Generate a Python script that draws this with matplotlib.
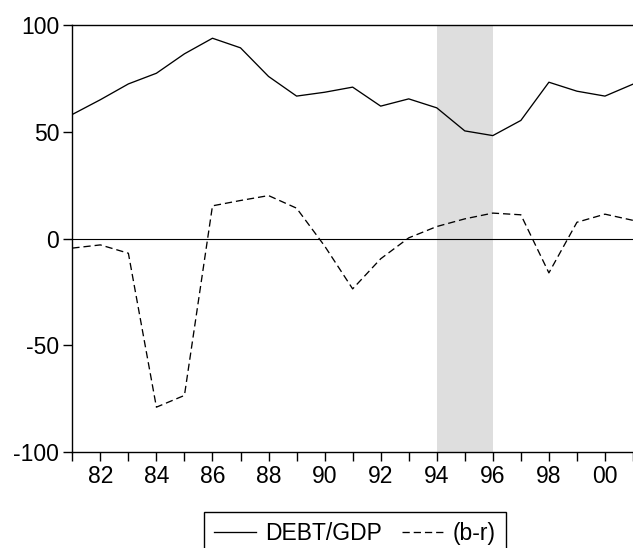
import matplotlib
matplotlib.use("Agg")
import matplotlib.pyplot as plt

years = list(range(1981, 2002))
debt_gdp = [58.1, 65.0, 72.4, 77.4, 86.5, 93.8, 89.3, 75.9, 66.7, 68.5, 70.9,
            62.0, 65.4, 61.2, 50.4, 48.2, 55.3, 73.2, 69.0, 66.7, 72.3]
b_minus_r = [-4.5, -3.0, -6.9, -79.0, -73.5, 15.3, 17.8, 20.1, 14.2, -3.5, -23.6,
             -9.5, 0.3, 5.6, 9.2, 11.9, 11.1, -16.1, 7.6, 11.4, 8.5]
shade_start, shade_end = 1994, 1996
y_ticks = [-100, -50, 0, 50, 100]
x_tick_labels = [str(y)[2:] if y % 2 == 0 else "" for y in years]

plt.rcParams['font.family'] = ['Liberation Sans', 'DejaVu Sans']

fig = plt.figure(figsize=(6.33, 5.48), dpi=100)
left = 72.3 / 633
bottom = 1 - 452 / 548
top = 1 - 25 / 548
ax = fig.add_axes([left, bottom, 1 - left, top - bottom])

ax.axvspan(shade_start, shade_end, color='#dedede', lw=0, zorder=0)
ax.axhline(0, color='black', lw=0.8, zorder=1)
l1, = ax.plot(years, debt_gdp, color='black', lw=0.95, zorder=2, label='DEBT/GDP')
l2, = ax.plot(years, b_minus_r, color='black', lw=0.95, zorder=2,
              linestyle=(0, (5.5, 3.0)), label='(b-r)')

ax.set_xlim(1981, 1981 + (633 - 72.3) / 28.2)
ax.set_ylim(-100, 100)
ax.set_yticks(y_ticks)
ax.set_yticklabels([str(v) for v in y_ticks])
ax.set_xticks(years)
ax.set_xticklabels(x_tick_labels)

for s in ['left', 'bottom', 'top']:
    ax.spines[s].set_linewidth(1.0)
ax.spines['right'].set_visible(False)

ax.tick_params(axis='both', direction='out', length=6.5, width=1.0,
               labelsize=16.5, colors='black')
ax.tick_params(axis='x', pad=3)
ax.tick_params(axis='y', pad=3)

leg = fig.legend(handles=[l1, l2], loc='upper left',
                 bbox_to_anchor=(204 / 633, 1 - 512 / 548),
                 ncol=2, fontsize=16.5, frameon=True, fancybox=False,
                 edgecolor='black', framealpha=1, handlelength=1.8,
                 handletextpad=0.4, columnspacing=0.9, borderpad=0.45,
                 borderaxespad=0)
leg.get_frame().set_linewidth(1.0)

fig.savefig('out.png', dpi=100)
